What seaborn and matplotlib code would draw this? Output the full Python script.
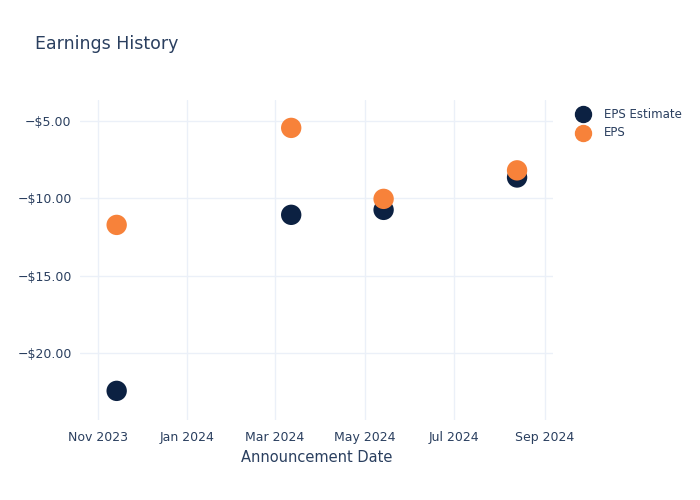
import matplotlib
matplotlib.use("Agg")
import matplotlib.pyplot as plt
import matplotlib.dates as mdates
from matplotlib.ticker import FuncFormatter
import seaborn as sns
import pandas as pd

dates = ["2023-11-14", "2024-03-12", "2024-05-14", "2024-08-13"]
eps_estimate = [-22.42, -11.06, -10.74, -8.65]
eps_actual = [-11.71, -5.45, -10.03, -8.19]
series_names = ["EPS Estimate", "EPS"]
colors = ["#0c2142", "#f7823a"]
x_ticks = ["2023-11-01", "2024-01-01", "2024-03-01", "2024-05-01", "2024-07-01", "2024-09-01"]
y_ticks = [-5, -10, -15, -20]

df = pd.DataFrame({
    "date": pd.to_datetime(dates * 2),
    "value": eps_estimate + eps_actual,
    "series": [series_names[0]] * len(dates) + [series_names[1]] * len(dates),
})

sns.set_theme(style="white")
plt.rcParams["font.family"] = ["DejaVu Sans"]
text_color = "#2a3f5f"
grid_color = "#ebf0f8"

fig = plt.figure(figsize=(7, 5), dpi=100)
ax = fig.add_axes([80 / 700, 80 / 500, (553 - 80) / 700, (420 - 100) / 500])

sns.scatterplot(data=df, x="date", y="value", hue="series", hue_order=series_names,
                palette=colors, s=215, linewidth=0, ax=ax, legend=False, zorder=3)

ax.set_xlim(pd.Timestamp("2023-10-20"), pd.Timestamp("2024-09-06 12:00"))
ax.set_ylim(-24.3, -3.65)
ax.set_xticks(pd.to_datetime(x_ticks))
ax.xaxis.set_major_formatter(mdates.DateFormatter("%b %Y"))
ax.set_yticks(y_ticks)
ax.yaxis.set_major_formatter(FuncFormatter(lambda v, p: f"\u2212${abs(v):.2f}" if v < 0 else f"${v:.2f}"))
ax.grid(True, color=grid_color, linewidth=1, zorder=0)
ax.set_axisbelow(True)
for s in ax.spines.values():
    s.set_visible(False)
ax.tick_params(axis="both", length=0, colors=text_color, labelsize=9)
ax.tick_params(axis="x", pad=8)
ax.tick_params(axis="y", pad=6)
ax.set_xlabel("Announcement Date", color=text_color, fontsize=10.5, labelpad=4)
ax.set_ylabel("")

fig.text(35 / 700, 1 - 44 / 500, "Earnings History", color=text_color, fontsize=12.5,
         ha="left", va="center")

# legend
for i, (name, c) in enumerate(zip(series_names, colors)):
    y = 1 - (114 + 19 * i) / 500
    fig.add_artist(plt.Line2D([583 / 700], [y], marker="o", markersize=11.5, color=c,
                              linestyle="none", transform=fig.transFigure))
    fig.text(604 / 700, y, name, color=text_color, fontsize=8.5, ha="left", va="center")

fig.savefig("out.png", dpi=100)
